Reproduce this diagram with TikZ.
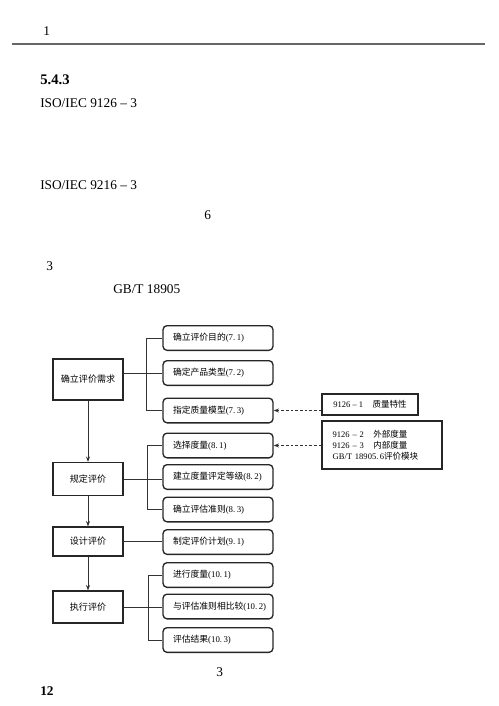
\documentclass[tikz,border=0pt]{standalone}
\usepackage{fontspec}
\setmainfont{Liberation Serif}
\newfontfamily\cjk{Noto Sans CJK SC}
\newcommand{\zh}[1]{{\cjk #1}}
\usetikzlibrary{arrows.meta}

\begin{document}
\begin{tikzpicture}[x=0.75pt,y=-0.75pt]
    \tikzset{
        stage/.style={draw=black!85,line width=1pt,minimum width=52.5pt,inner sep=1pt,font=\fontsize{6.8}{8}\selectfont},
        task/.style={draw=black!85,line width=1pt,rounded corners=3pt,text width=82.5pt,inner xsep=0pt,minimum height=18.5pt,align=left,execute at begin node={\hspace*{7.5pt}},font=\fontsize{6.6}{8}\selectfont},
        note/.style={draw=black!85,line width=1pt,inner xsep=8pt,align=left,font=\fontsize{6.4}{8.2}\selectfont},
        link/.style={black!80,line width=0.5pt},
        flow/.style={-{Stealth[length=4pt,width=3pt]},black!80,line width=0.5pt},
        refer/.style={-{Stealth[length=4pt,width=3pt]},black!80,dash pattern=on 2pt off 1.5pt,line width=0.5pt},
        body/.style={anchor=west,inner sep=0pt,font=\fontsize{10}{12}\selectfont}
    }
    \useasboundingbox (0,0) rectangle (499,706);

    % page text
    \node[body] (head) at (43,31) {1};
    \draw[black!60,line width=1pt] (12,44) -- (485,44);
    \node[body,font=\bfseries\fontsize{11}{13}\selectfont] (sec) at (40,80) {5.4.3};
    \node[body] (iso1) at (40,103) {ISO/IEC 9126 – 3};
    \node[body] (iso2) at (40,185) {ISO/IEC 9216 – 3};
    \node[body] (six) at (204,215) {6};
    \node[body] (three) at (46,266) {3};
    \node[body] (gbt) at (113,289) {GB/T 18905};

    % stages
    \node[stage,minimum height=30.75pt] (s1) at (88,379.5) {\zh{确立评价需求}};
    \node[stage,minimum height=24.75pt] (s2) at (88,479) {\zh{规定评价}};
    \node[stage,minimum height=21.75pt] (s3) at (88,541.5) {\zh{设计评价}};
    \node[stage,minimum height=24pt] (s4) at (88,607) {\zh{执行评价}};

    % tasks
    \node[task] (t71) at (218,338) {\zh{确立评价目的}(7.\,1)};
    \node[task] (t72) at (218,373) {\zh{确定产品类型}(7.\,2)};
    \node[task] (t73) at (218,410.5) {\zh{指定质量模型}(7.\,3)};
    \node[task] (t81) at (218,445.5) {\zh{选择度量}(8.\,1)};
    \node[task] (t82) at (218,477) {\zh{建立度量评定等级}(8.\,2)};
    \node[task] (t83) at (218,509.5) {\zh{确立评估准则}(8.\,3)};
    \node[task] (t91) at (218,542) {\zh{制定评价计划}(9.\,1)};
    \node[task] (t101) at (218,575) {\zh{进行度量}(10.\,1)};
    \node[task] (t102) at (218,606.5) {\zh{与评估准则相比较}(10.\,2)};
    \node[task] (t103) at (218,640) {\zh{评估结果}(10.\,3)};

    % standards
    \node[note,minimum width=72pt,minimum height=15.75pt] (q1) at (370,404.5) {9126 – 1\hspace{7pt}\zh{质量特性}};
    \node[note,text width=74pt,minimum height=36pt] (q2) at (382,445) {9126 – 2\hspace{7pt}\zh{外部度量}\\9126 – 3\hspace{7pt}\zh{内部度量}\\GB/T\ 18905.\,6\zh{评价模块}};

    \node[body] (fig) at (216,672) {3};
    \node[body,font=\bfseries\fontsize{10}{12}\selectfont] (page) at (40,691) {12};

    \draw[link] (s1.east |- t72.west) -- (t72.west);
    \draw[link] (t71.west) -- ++(-16,0) |- (t73.west);
    \draw[link] (s2.east) -- (s2.east -| t82.west);
    \draw[link] (t81.west) -- ++(-15,0) |- (t83.west);
    \draw[link] (s3.east) -- (s3.east -| t91.west);
    \draw[link] (s4.east) -- (s4.east -| t102.west);
    \draw[link] (t101.west) -- ++(-14,0) |- (t103.west);
    \foreach \a/\b in {s1/s2,s2/s3,s3/s4}{
            \draw[flow] (\a) -- (\b);
        }
    \draw[refer] (q1.west |- t73.east) -- (t73.east);
    \draw[refer] (q2.west |- t81.east) -- (t81.east);
\end{tikzpicture}
\end{document}
